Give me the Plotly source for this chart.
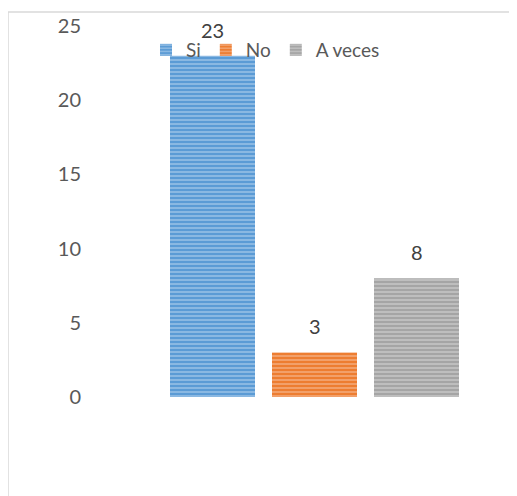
import plotly.graph_objects as go

series = ["Si", "No", "A veces"]
values = [23, 3, 8]
colors = ["#5B9BD5", "#ED7D31", "#A5A5A5"]
stripe = ["#e3edf8", "#fbe3d3", "#ececec"]
y_ticks = [0, 5, 10, 15, 20, 25]

OFF = 8  # page body margin
W, H = 517 - OFF, 496 - OFF
ml = 88 - OFF
mt = 26 - OFF
plot_bottom = 397 - OFF
mb = H - plot_bottom
mr = 20
pw = W - ml - mr
ph = H - mt - mb
px_per_unit = 102.0
x0_px = 212.5 - OFF
xr0 = (ml - x0_px) / px_per_unit
xr1 = xr0 + pw / px_per_unit
FONT = "Lato, Open Sans, sans-serif"

fig = go.Figure()
for i, (s, v, c, sc) in enumerate(zip(series, values, colors, stripe)):
    fig.add_trace(go.Bar(
        x=[i], y=[v], name=s, width=85 / 102,
        marker=dict(color=c, line=dict(width=0),
                    pattern=dict(shape="-", fgcolor=sc, bgcolor=c, size=4, solidity=0.35)),
        hoverinfo="skip",
    ))

annotations = []
for i, v in enumerate(values):
    annotations.append(dict(x=i, y=v, xref="x", yref="y", text=str(v), showarrow=False,
                            yanchor="bottom", yshift=12,
                            font=dict(family=FONT, size=20, color="#404040")))

fig.update_layout(
    width=W, height=H,
    margin=dict(l=ml, r=mr, t=mt, b=mb, autoexpand=False),
    paper_bgcolor="white", plot_bgcolor="white",
    showlegend=True,
    legend=dict(orientation="h", x=(146 - OFF - ml) / pw, y=(plot_bottom - (50 - OFF)) / ph,
                xanchor="left", yanchor="middle",
                font=dict(family=FONT, size=19, color="#595959"),
                bgcolor="rgba(0,0,0,0)", traceorder="normal", itemclick=False),
    xaxis=dict(range=[xr0, xr1], showticklabels=False, showgrid=False, zeroline=False,
               showline=False, ticks="", automargin=False),
    yaxis=dict(range=[0, 25], tickvals=y_ticks, showgrid=False, zeroline=False, showline=False,
               ticks="", ticklabelstandoff=6, automargin=False,
               tickfont=dict(family=FONT, size=20, color="#595959")),
    annotations=annotations,
    shapes=[dict(type="rect", xref="paper", yref="paper",
                 x0=(0 - ml) / pw, x1=(W + 20 - ml) / pw,
                 y0=(plot_bottom - (H + 20)) / ph, y1=(plot_bottom - (12 - OFF)) / ph,
                 line=dict(color="#d9d9d9", width=1.5), fillcolor="rgba(0,0,0,0)", layer="below")],
)

fig.write_html("out.html")
